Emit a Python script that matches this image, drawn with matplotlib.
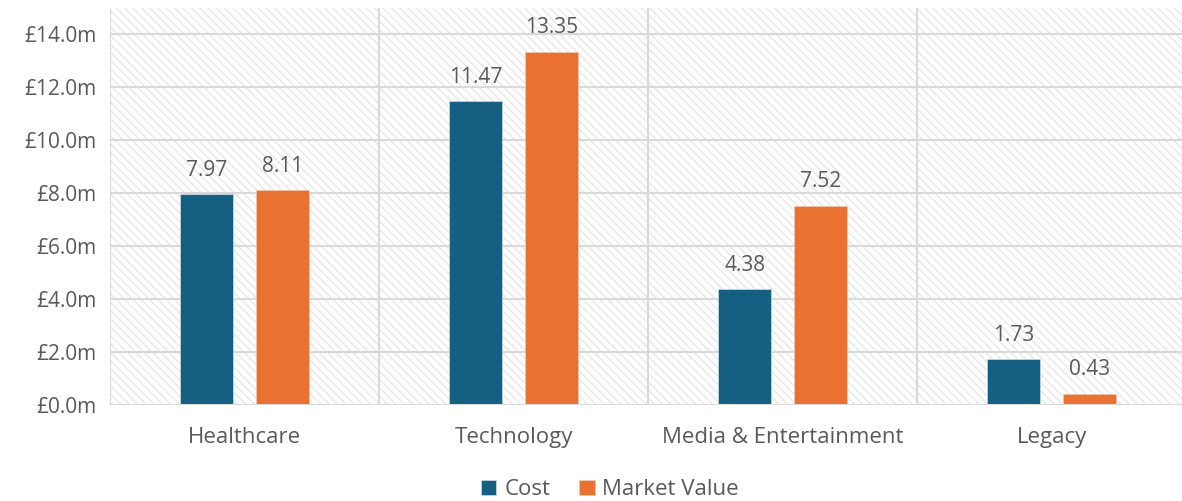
import matplotlib.pyplot as plt
import numpy as np
from matplotlib.patches import Rectangle

plt.rcParams['font.family'] = ['Open Sans', 'DejaVu Sans']
plt.rcParams['hatch.linewidth'] = 0.8

categories = ["Healthcare", "Technology", "Media & Entertainment", "Legacy"]
cost = [7.97, 11.47, 4.38, 1.73]
market_value = [8.11, 13.35, 7.52, 0.43]
y_ticks = [0, 2, 4, 6, 8, 10, 12, 14]

blue = "#156082"
orange = "#E97132"
grid = "#d9d9d9"
txt = "#595959"

fig = plt.figure(figsize=(11.82, 5.01), dpi=100)
ax = fig.add_axes([110 / 1182, 1 - 405 / 501, 1 - 110 / 1182, 397 / 501])

# hatched background of the plot area
ax.add_patch(Rectangle((0, 0), 1, 1, transform=ax.transAxes, facecolor="white",
                       edgecolor="#e3e3e3", hatch="\\\\\\\\", lw=0, zorder=0))

x = np.arange(len(categories))
w = 0.197
off = 0.141
b1 = ax.bar(x - off, cost, w, color=blue, edgecolor="#d0dce3", lw=0.5, zorder=3, label="Cost")
b2 = ax.bar(x + off, market_value, w, color=orange, edgecolor="#f5c8ae", lw=0.5, zorder=3,
            label="Market Value")

for bars, vals in ((b1, cost), (b2, market_value)):
    for b, v in zip(bars, vals):
        ax.text(b.get_x() + b.get_width() / 2, v + 0.7, f"{v:.2f}", ha="center", va="baseline",
                fontsize=15, color=txt)

ax.set_xlim(-0.5, 3.485)
ax.set_ylim(0, 15)
ax.set_yticks(y_ticks)
ax.set_yticklabels([f"£{t:.1f}m" for t in y_ticks])
ax.set_xticks(x)
ax.set_xticklabels(categories, fontsize=16)
ax.tick_params(length=0, labelsize=15, colors=txt)
ax.tick_params(axis="x", labelsize=16, pad=16)
ax.tick_params(axis="y", pad=10)

for t in y_ticks[1:]:
    ax.axhline(t, color=grid, lw=1.5, zorder=1)
for v in [-0.5, 0.5, 1.5, 2.5, 3.5]:
    ax.axvline(v, color=grid, lw=1.5, zorder=1)
ax.axhline(0, color=grid, lw=1.5, zorder=4)

for s in ax.spines.values():
    s.set_visible(False)

fig.legend(handles=[b1, b2], loc="center", bbox_to_anchor=(0.516, 0.022), ncol=2,
           frameon=False, fontsize=16, handlelength=0.7, handleheight=0.7,
           handletextpad=0.35, columnspacing=1.3, labelcolor=txt)

fig.savefig("out.png", dpi=100)
